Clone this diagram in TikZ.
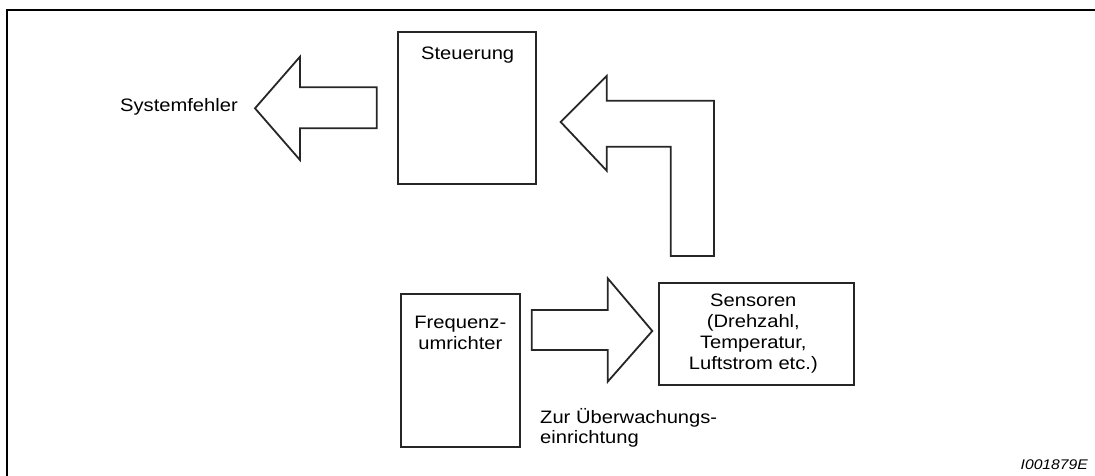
\documentclass[tikz,border=0pt]{standalone}
\usepackage{fontspec}
\setmainfont{Liberation Sans}[FakeStretch=1.12]
\begin{document}
\begin{tikzpicture}[x=1pt,y=-1pt,
  box/.style={draw=black!85, line width=1.8pt, inner sep=0pt, fill=none},
  blockarrow/.style={draw=black!85, line width=1.8pt, line join=miter},
  lbl/.style={inner sep=0pt, font=\fontsize{18}{21}\selectfont},
  frame/.style={draw=black, line width=2.7pt}]
\useasboundingbox (0,0) rectangle (1095,476);
% outer frame
\coordinate (fbl) at (7,476);
\coordinate (ftl) at (7,10);
\coordinate (ftr) at (1095,10);
\draw[frame] (fbl) -- (ftl) -- (ftr);
% boxes
\node[box, minimum width=137.4pt, minimum height=151.7pt] (steu) at (467,108.2) {};
\node[box, minimum width=119.3pt, minimum height=153pt] (freq) at (460.35,370.8) {};
\node[box, minimum width=195pt, minimum height=102pt] (sens) at (756.8,334.3) {};
% texts (base anchor of a multi-line node = last line)
\node[lbl, anchor=base] (tsteu) at (467.7,59.3) {Steuerung};
\node[lbl, anchor=base east] (tsys) at (238,111.7) {Systemfehler};
\node[lbl, anchor=base, align=center] (tfreq) at (460.3,349.3) {Frequenz-\\umrichter};
\node[lbl, anchor=base, align=center] (tsens) at (753.3,369) {Sensoren\\(Drehzahl,\\Temperatur,\\Luftstrom etc.)};
\node[lbl, anchor=base west, align=left, font=\fontsize{18}{20}\selectfont] (tzur) at (540,443) {Zur Überwachungs-\\einrichtung};
\node[inner sep=0pt, anchor=base east, font=\fontsize{14}{16}\selectfont\itshape] (tid) at (1088,469.3) {I001879E};
% left block arrow (Steuerung -> Systemfehler)
\draw[blockarrow] (376.7,87.3) -- (300,87.3) -- (300,56.7) -- (255,108.3) -- (300,160) -- (300,128.3) -- (376.7,128.3) -- cycle;
% L-shaped block arrow (Sensoren -> Steuerung)
\draw[blockarrow] (714,256) -- (714,100.7) -- (606.7,100.7) -- (606.7,76) -- (560.7,122) -- (606.7,170.7) -- (606.7,146.7) -- (670.7,146.7) -- (670.7,256) -- cycle;
% right block arrow (Frequenzumrichter -> Sensoren)
\draw[blockarrow] (531.7,310) -- (607.7,310) -- (607.7,278.3) -- (652.3,331) -- (607.7,381.7) -- (607.7,350) -- (531.7,350) -- cycle;
\end{tikzpicture}
\end{document}
